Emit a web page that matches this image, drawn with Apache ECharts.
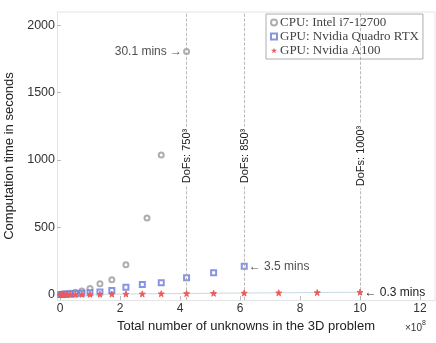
<!DOCTYPE html>
<html>
<head>
<meta charset="utf-8">
<script src="https://cdn.jsdelivr.net/npm/echarts@6/dist/echarts.min.js"></script>
<style>
  html, body { margin: 0; padding: 0; background: #ffffff; }
  #chart { width: 436px; height: 343px; }
</style>
</head>
<body>
<div id="chart"></div>
<script>
// 数据：x 为未知数个数（×10^8），y 为计算时间（秒）
const cpuX = [0.027, 0.064, 0.125, 0.216, 0.343, 0.512, 0.729, 1.0, 1.331, 1.728, 2.197, 2.9, 3.375, 4.219];
const cpuY = [1, 2, 4, 7, 11, 17, 26, 45, 81, 110, 222, 570, 1037, 1806];

const quadroX = [0.027, 0.064, 0.125, 0.216, 0.343, 0.512, 0.729, 1.0, 1.331, 1.728, 2.197, 2.744, 3.375, 4.219, 5.12, 6.141];
const quadroY = [1, 1, 2, 3, 5, 7, 10, 14, 20, 30, 55, 75, 89, 126, 163, 210];

const a100X = [0.027, 0.064, 0.125, 0.216, 0.343, 0.512, 0.729, 1.0, 1.331, 1.728, 2.197, 2.744, 3.375, 4.219, 5.12, 6.141, 7.29, 8.575, 10.0];
const a100Y = [0.2, 0.3, 0.5, 0.7, 1, 1.3, 1.8, 2.4, 3, 3.8, 4.6, 5.6, 6.8, 8.2, 10, 12, 13.5, 15.5, 18];

const dofLines = [4.219, 6.141, 10.0];
const dofNames = ['DoFs: 750³', 'DoFs: 850³', 'DoFs: 1000³'];

const xTicks = [0, 2, 4, 6, 8, 10, 12];
const yTicks = [0, 500, 1000, 1500, 2000];

const seriesNames = ['CPU: Intel i7-12700', 'GPU: Nvidia Quadro RTX', 'GPU: Nvidia A100'];

// 标注：[序列下标, 点下标, 文本, 位置]
const notes = [
  [0, 13, '30.1 mins \u2192', 'left'],
  [1, 15, '\u2190 3.5 mins', 'right'],
  [2, 18, '\u2190 0.3 mins', 'right']
];

const starPath = 'path://M50,0 L61,35 L98,35 L68,57 L79,91 L50,70 L21,91 L32,57 L2,35 L39,35 Z';

function makeData(xs, ys, sIdx) {
  return xs.map((x, i) => {
    const item = { value: [x, ys[i]] };
    notes.forEach(n => {
      if (n[0] === sIdx && n[1] === i) {
        item.label = {
          show: true,
          position: n[3],
          distance: 1,
          formatter: n[2],
          color: '#222',
          fontSize: 12,
          fontFamily: 'Liberation Sans'
        };
      }
    });
    return item;
  });
}

let chart = echarts.init(document.getElementById('chart'));

let option = {
  animation: false,
  textStyle: { fontFamily: 'Liberation Sans' },
  grid: { left: 57, right: 1, top: 12, bottom: 43, outerBoundsMode: 'none' },
  legend: {
    orient: 'vertical',
    left: 266,
    top: 14,
    padding: [2, 4, 2, 4],
    itemGap: 1,
    itemWidth: 6,
    itemHeight: 6,
    borderColor: '#999',
    borderWidth: 0.8,
    backgroundColor: '#fff',
    textStyle: { fontFamily: 'Liberation Serif', fontSize: 13, color: '#444', padding: [0, 0, 0, -2] },
    data: [
      { name: seriesNames[0], icon: 'emptyCircle' },
      { name: seriesNames[1], icon: 'emptyRect' },
      { name: seriesNames[2], icon: starPath }
    ]
  },
  xAxis: {
    type: 'value',
    min: -0.1,
    max: 12.5,
    name: 'Total number of unknowns in the 3D problem',
    nameLocation: 'middle',
    nameGap: 18,
    nameTextStyle: { fontSize: 13, color: '#222' },
    axisLine: { show: true, onZero: false, lineStyle: { color: '#ddd', width: 0.8 } },
    axisTick: { show: true, inside: true, length: 4, customValues: xTicks, lineStyle: { color: '#bbb' } },
    axisLabel: { customValues: xTicks, margin: 3, fontSize: 12, color: '#333', formatter: v => String(v) },
    splitLine: { show: false }
  },
  yAxis: {
    type: 'value',
    min: -40,
    max: 2100,
    name: 'Computation time in seconds',
    nameLocation: 'middle',
    nameGap: 39,
    nameTextStyle: { fontSize: 13, color: '#222' },
    axisLine: { show: true, onZero: false, lineStyle: { color: '#ddd', width: 0.8 } },
    axisTick: { show: true, inside: true, length: 4, customValues: yTicks, lineStyle: { color: '#bbb' } },
    axisLabel: { customValues: yTicks, margin: 2, fontSize: 12.5, color: '#333', formatter: v => String(v) },
    splitLine: { show: false }
  },
  graphic: [
    {
      type: 'text',
      left: 405,
      top: 320,
      style: {
        text: '{a|\u00d710}{b|8}',
        rich: {
          a: { fontSize: 10, fill: '#333', fontFamily: 'Liberation Sans', padding: [4, 0, 0, 0] },
          b: { fontSize: 7, fill: '#333', fontFamily: 'Liberation Sans', padding: [0, 0, 6, 0] }
        }
      }
    },
    {
      type: 'line',
      shape: { x1: 57, y1: 12, x2: 435, y2: 12 },
      style: { stroke: '#ddd', lineWidth: 0.8 }
    },
    {
      type: 'line',
      shape: { x1: 435, y1: 12, x2: 435, y2: 300 },
      style: { stroke: '#ddd', lineWidth: 0.8 }
    }
  ],
  series: [
    {
      name: seriesNames[0],
      type: 'scatter',
      symbol: 'emptyCircle',
      symbolSize: 5,
      itemStyle: { color: '#9a9a9a', borderWidth: 0.8 },
      data: makeData(cpuX, cpuY, 0),
      z: 3,
      markLine: {
        silent: true,
        symbol: 'none',
        lineStyle: { color: '#aaa', type: 'dashed', width: 0.8 },
        label: {
          show: true,
          position: 'middle',
          color: '#222',
          fontSize: 11,
          backgroundColor: '#fff',
          padding: [0, 2],
          distance: -6,
          formatter: p => dofNames[p.dataIndex]
        },
        data: dofLines.map(v => ({ xAxis: v }))
      }
    },
    {
      name: seriesNames[1],
      type: 'scatter',
      symbol: 'emptyRect',
      symbolSize: 5,
      itemStyle: { color: '#6a78dc', borderWidth: 0.8 },
      data: makeData(quadroX, quadroY, 1),
      z: 4
    },
    {
      name: seriesNames[2],
      type: 'line',
      symbol: starPath,
      symbolSize: 6,
      showSymbol: true,
      lineStyle: { color: '#b8d0dc', width: 0.8 },
      itemStyle: { color: '#ec5a5a', borderColor: '#ec5a5a' },
      data: makeData(a100X, a100Y, 2),
      z: 5
    }
  ]
};

chart.setOption(option);
</script>
</body>
</html>
